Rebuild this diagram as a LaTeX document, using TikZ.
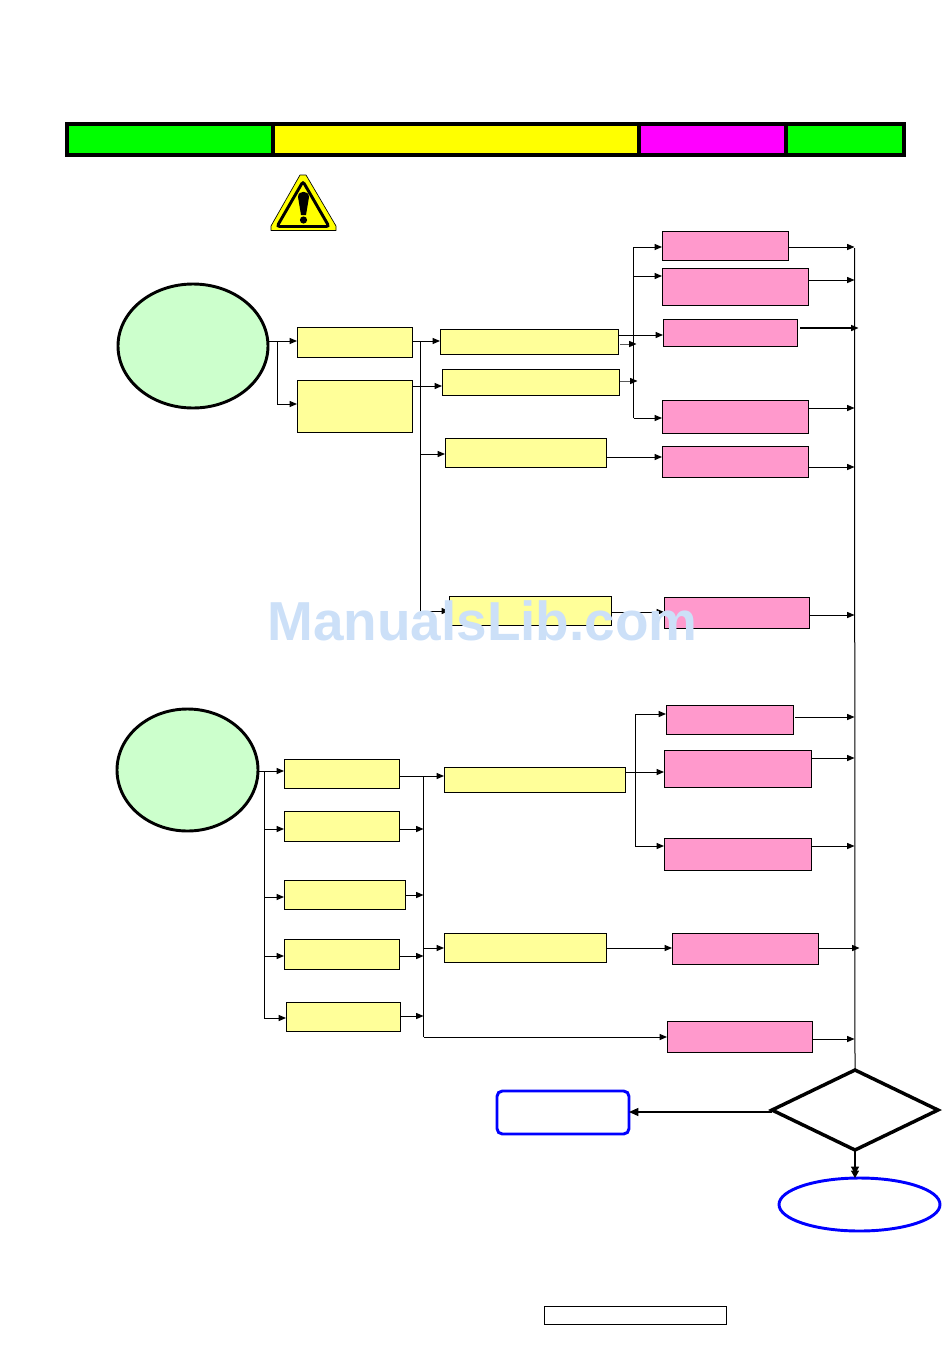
\documentclass[tikz,border=0pt]{standalone}
\usepackage{fontspec}
\setsansfont{Liberation Sans}
\usetikzlibrary{arrows.meta,shapes.geometric}
\definecolor{boxyellow}{HTML}{FFFF99}
\definecolor{boxpink}{HTML}{FF99CC}
\definecolor{startgreen}{HTML}{CCFFCC}
\definecolor{markblue}{HTML}{CCE0F8}
\definecolor{puregreen}{HTML}{00FF00}
\definecolor{pureyellow}{HTML}{FFFF00}
\definecolor{puremagenta}{HTML}{FF00FF}
\definecolor{pureblue}{HTML}{0000FF}
\tikzset{
  wh/.style 2 args={minimum width=#1*0.75pt, minimum height=#2*0.75pt},
  plain/.style={draw, anchor=north west, inner sep=0pt, outer sep=0pt, line width=0.7pt},
  ybox/.style={plain, fill=boxyellow},
  pbox/.style={plain, fill=boxpink},
  cell/.style={draw, anchor=north west, inner sep=0pt, outer sep=0pt, line width=2.5pt},
  start/.style={draw, ellipse, inner sep=0pt, outer sep=0pt, line width=2.2pt, fill=startgreen},
  link/.style={line width=0.75pt, -{Triangle[length=5.5pt, width=4.5pt]}},
  bus/.style={line width=0.75pt},
  biglink/.style={line width=0.8pt, -{Triangle[length=7pt, width=6pt]}}
}
\begin{document}
\begin{tikzpicture}[x=0.75pt, y=-0.75pt]
  \useasboundingbox (0,0) rectangle (950,1353);
  % top bar
  \node[cell, fill=puregreen, wh={206}{31}] (barA) at (67,124) {};
  \node[cell, fill=pureyellow, wh={366}{31}] (barB) at (273,124) {};
  \node[cell, fill=puremagenta, wh={147}{31}] (barC) at (639,124) {};
  \node[cell, fill=puregreen, wh={118}{31}] (barD) at (786,124) {};
  % warning sign
  \draw[fill=pureyellow, line width=0.5pt, line join=round] (300,175) -- (306,175) -- (336,226) -- (336,230.5) -- (271,230.5) -- (271,226) -- cycle;
  \draw[line width=2.2pt, rounded corners=2pt] (303,181.5) -- (329,226.5) -- (277,226.5) -- cycle;
  \fill (298,197) .. controls (298,190) and (309,190) .. (309,197) -- (306,215) -- (301,215) -- cycle;
  \fill (303.5,220) circle (3.6);
  % upper group
  \node[start, wh={150}{124}] (startA) at (193,346) {};
  \node[ybox, wh={115}{30}] (yA) at (297,327) {};
  \node[ybox, wh={115}{52}] (yB) at (297,380) {};
  \node[ybox, wh={178}{25}] (yC) at (440,329) {};
  \node[ybox, wh={177}{26}] (yD) at (442,369) {};
  \node[ybox, wh={161}{29}] (yE) at (445,438) {};
  \node[ybox, wh={162}{29}] (yF) at (449,596) {};
  \node[pbox, wh={126}{29}] (pA) at (662,231) {};
  \node[pbox, wh={146}{37}] (pB) at (662,268) {};
  \node[pbox, wh={134}{27}] (pC) at (663,319) {};
  \node[pbox, wh={146}{33}] (pD) at (662,400) {};
  \node[pbox, wh={146}{31}] (pE) at (662,446) {};
  \node[pbox, wh={145}{31}] (pF) at (664,597) {};
  % lower group
  \node[start, wh={141}{122}] (startB) at (187.5,770) {};
  \node[ybox, wh={115}{29}] (yG) at (284,759) {};
  \node[ybox, wh={115}{30}] (yH) at (284,811) {};
  \node[ybox, wh={121}{29}] (yI) at (284,880) {};
  \node[ybox, wh={115}{30}] (yJ) at (284,939) {};
  \node[ybox, wh={114}{29}] (yK) at (286,1002) {};
  \node[ybox, wh={181}{25}] (yL) at (444,767) {};
  \node[ybox, wh={162}{29}] (yM) at (444,933) {};
  \node[pbox, wh={127}{29}] (pG) at (666,705) {};
  \node[pbox, wh={147}{37}] (pH) at (664,750) {};
  \node[pbox, wh={147}{32}] (pI) at (664,838) {};
  \node[pbox, wh={146}{31}] (pJ) at (672,933) {};
  \node[pbox, wh={145}{31}] (pK) at (667,1021) {};
  % end of the chart
  \node[draw, diamond, aspect=2.08, inner sep=0pt, outer sep=0pt, line width=2.6pt, wh={166}{80}] (check) at (855,1110) {};
  \node[draw=pureblue, rounded corners=4pt, anchor=north west, inner sep=0pt, outer sep=0pt, line width=2.2pt, wh={132}{43}] (retry) at (497,1091) {};
  \node[draw=pureblue, ellipse, inner sep=0pt, outer sep=0pt, line width=2.2pt, wh={161}{53}] (done) at (859.5,1204.5) {};
  \node[draw, anchor=north west, inner sep=0pt, outer sep=0pt, line width=0.5pt, wh={182}{18}] (pageno) at (544.5,1306.5) {};
  % buses
  \coordinate (busA) at (277,341);
  \coordinate (busB) at (420,341);
  \coordinate (busC) at (633.5,247);
  \coordinate (busD) at (854.5,248);
  \coordinate (busE) at (264,771);
  \coordinate (busF) at (423.5,776);
  \coordinate (busG) at (635,714);
  \draw[bus] (busA) -- (busA |- 0,404);
  \draw[bus] (busB) -- (busB |- 0,611);
  \draw[bus] (busC) -- (busC |- 0,418);
  \draw[bus] (busD) -- (check.north);
  \draw[bus] (busE) -- (busE |- 0,1018);
  \draw[bus] (busF) -- (busF |- 0,1037);
  \draw[bus] (busG) -- (busG |- 0,846);
  % upper connectors
  \draw[link] (startA.east |- 0,341) -- (yA.west |- 0,341);
  \draw[link] (busA |- 0,404) -- (yB.west |- 0,404);
  \draw[link] (yA.east |- 0,341) -- (yC.west |- 0,341);
  \draw[link] (yB.east |- 0,386) -- (yD.west |- 0,386);
  \draw[link] (busB |- 0,454) -- (yE.west |- 0,454);
  \draw[link] (busB |- 0,611) -- (yF.west |- 0,611);
  \draw[link] (busC) -- (pA.west |- 0,247);
  \draw[link] (busC |- 0,276) -- (pB.west |- 0,276);
  \draw[link] (yC.east |- 0,335) -- (pC.west |- 0,335);
  \draw[link] (yC.east |- 0,344) ++(2,0) -- (busC |- 0,344) -- ++(3,0);
  \draw[link] (yD.east |- 0,381) -- (busC |- 0,381) -- ++(4,0);
  \draw[link] (busC |- 0,418) -- (pD.west |- 0,418);
  \draw[link] (yE.east |- 0,457) -- (pE.west |- 0,457);
  \draw[link] (yF.east |- 0,612) -- (pF.west |- 0,612);
  \draw[link] (pA.east |- 0,247) -- (busD |- 0,247);
  \draw[link] (pB.east |- 0,280) -- (busD |- 0,280);
  \draw[link, line width=1pt] (pC.east |- 0,328) ++(3,0) -- (busD |- 0,328) -- ++(4,0);
  \draw[link] (pD.east |- 0,408) -- (busD |- 0,408);
  \draw[link] (pE.east |- 0,467) -- (busD |- 0,467);
  \draw[link] (pF.east |- 0,615) -- (busD |- 0,615);
  % lower connectors
  \draw[link] (startB.east |- 0,771) -- (yG.west |- 0,771);
  \draw[link] (busE |- 0,829) -- (yH.west |- 0,829);
  \draw[link] (busE |- 0,897) -- (yI.west |- 0,897);
  \draw[link] (busE |- 0,956) -- (yJ.west |- 0,956);
  \draw[link] (busE |- 0,1018) -- (yK.west |- 0,1018);
  \draw[link] (yG.east |- 0,776) -- (yL.west |- 0,776);
  \draw[link] (yH.east |- 0,829) -- (busF |- 0,829);
  \draw[link] (yI.east |- 0,895) -- (busF |- 0,895);
  \draw[link] (yJ.east |- 0,956) -- (busF |- 0,956);
  \draw[link] (yK.east |- 0,1016) -- (busF |- 0,1016);
  \draw[link] (busF |- 0,948) -- (yM.west |- 0,948);
  \draw[link] (busF |- 0,1037) -- (pK.west |- 0,1037);
  \draw[link] (yL.east |- 0,772) -- (pH.west |- 0,772);
  \draw[link] (busG) -- (pG.west |- 0,714);
  \draw[link] (busG |- 0,846) -- (pI.west |- 0,846);
  \draw[link] (yM.east |- 0,948) -- (pJ.west |- 0,948);
  \draw[link] (pG.east |- 0,717) ++(2,0) -- (busD |- 0,717);
  \draw[link] (pH.east |- 0,758) -- (busD |- 0,758);
  \draw[link] (pI.east |- 0,846) -- (busD |- 0,846);
  \draw[link] (pJ.east |- 0,948) -- (busD |- 0,948) -- ++(5,0);
  \draw[link] (pK.east |- 0,1039) -- (busD |- 0,1039);
  % decision
  \draw[biglink] (check.west |- 0,1112) -- (retry.east |- 0,1112);
  \draw[biglink, {-Triangle[length=5.5pt, width=6pt]}] (check.south) -- ([yshift=3pt]done.north -| check.south);
  \draw[biglink, {-Triangle[length=5.5pt, width=6pt]}] ([yshift=8pt]done.north -| check.south) -- (done.north -| check.south);
  % page mark
  \node[text=markblue, font=\sffamily\bfseries\fontsize{41.2}{41.2}\selectfont, inner sep=0pt] (mark) at (482.5,621) {ManualsLib.com};
\end{tikzpicture}
\end{document}
